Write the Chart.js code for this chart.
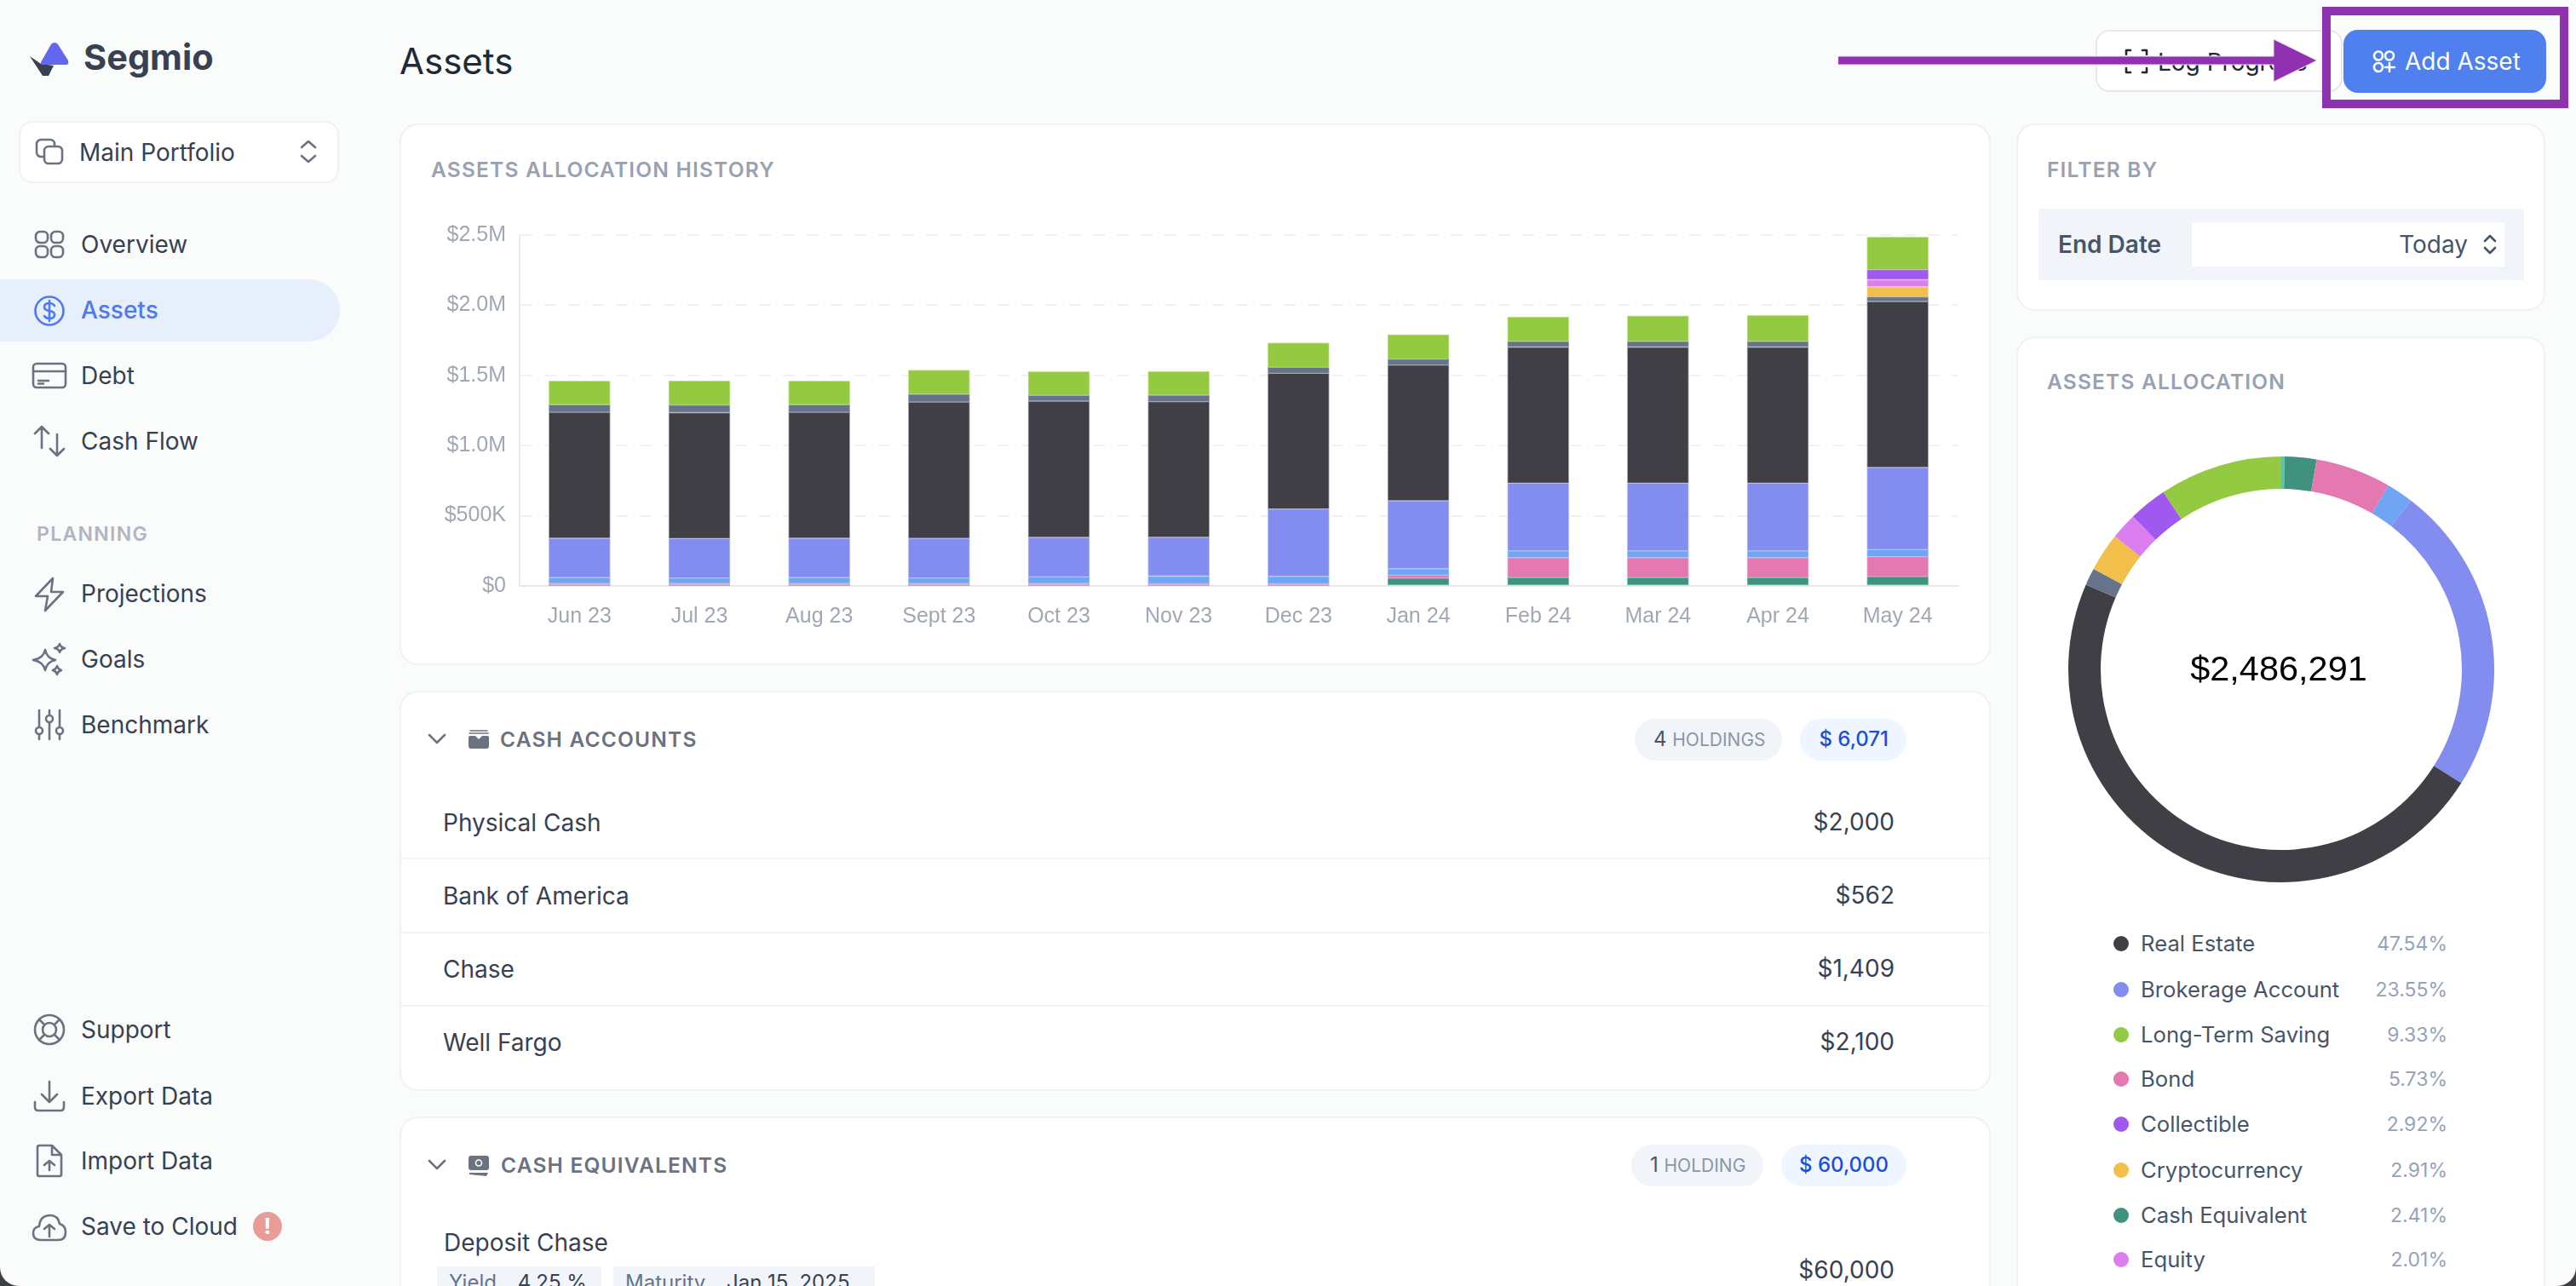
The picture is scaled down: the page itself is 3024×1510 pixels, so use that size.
<!DOCTYPE html>
<html>
<head>
<meta charset="utf-8">
<title>Segmio Assets</title>
<script src="https://cdn.jsdelivr.net/npm/chart.js@4"></script>
<style>
html, body { margin: 0; padding: 0; width: 3024px; height: 1510px; overflow: hidden; background: #3f3f46; }
#page { position: absolute; left: 0; top: 0; width: 3024px; height: 1510px; background: #fafbfb; overflow: hidden;
  border-bottom-left-radius: 22px; border-bottom-right-radius: 22px; font-family: Inter, sans-serif; color: #374151; }
.abs { position: absolute; }
.txt { position: absolute; white-space: nowrap; transform: translateY(-50%); line-height: 1; }
.txtr { position: absolute; white-space: nowrap; transform: translate(-100%, -50%); line-height: 1; }
.card { position: absolute; background: #fff; border: 2px solid #eef1f5; border-radius: 22px; box-sizing: border-box; }
.heading { font-size: 24.5px; font-weight: 600; color: #98a2b3; letter-spacing: 1.2px; }
.section { font-size: 24.5px; font-weight: 600; color: #6b7280; letter-spacing: 1.2px; }
.nav { font-size: 28px; color: #374151; }
.row { font-size: 28px; color: #374151; }
.sep { position: absolute; height: 2px; background: #f1f4f8; }
.pill { position: absolute; border-radius: 25px; box-sizing: border-box; }
svg { position: absolute; overflow: visible; fill: none; stroke: #6b7280; stroke-width: 2.6; stroke-linecap: round; stroke-linejoin: round; }
.legendName { font-size: 25.7px; color: #475569; }
.legendPct { font-size: 23px; color: #94a3b8; }
.dot { position: absolute; width: 18px; height: 18px; border-radius: 50%; transform: translate(-50%, -50%); }
</style>
</head>
<body>
<div id="page">

  <!-- sidebar -->
  <svg style="left:35px;top:49px" width="46" height="40" viewBox="0 0 46 40">
    <path d="M0 17 L15 40 L22 40 L28 28 L13 26 Z" style="fill:#374151;stroke:none"/>
    <path d="M13 24 L25 3 Q29 -1 33 3 L45 22 Q46 27 43 27 L16 27 Q12 27 13 24 Z" style="fill:#6366f1;stroke:none"/>
  </svg>
  <div class="txt" style="left:98px;top:68px;font-size:41.500px;font-weight:700;color:#374151">Segmio</div>

  <div class="abs" style="left:22px;top:142px;width:376px;height:73px;background:#fff;border:2px solid #eef1f5;border-radius:16px;box-sizing:border-box"></div>
  <svg style="left:42px;top:163px" width="32" height="30" viewBox="0 0 32 30">
    <rect x="1" y="1" width="21" height="20" rx="5"/><rect x="10" y="9" width="21" height="20" rx="5" style="fill:#fff"/>
  </svg>
  <div class="txt nav" style="left:93px;top:179px">Main Portfolio</div>
  <svg style="left:353px;top:164px" width="18" height="28" viewBox="0 0 18 28"><path d="M1 9 L9 2 L17 9 M1 19 L9 26 L17 19"/></svg>

  <div class="abs" style="left:0;top:328px;width:399px;height:73px;background:#e7eefc;border-radius:0 37px 37px 0"></div>

  <svg style="left:41px;top:271px" width="34" height="32" viewBox="0 0 34 32">
    <rect x="1" y="1" width="14" height="13" rx="5"/><rect x="19" y="1" width="14" height="13" rx="5"/>
    <rect x="1" y="18" width="14" height="13" rx="5"/><rect x="19" y="18" width="14" height="13" rx="5"/>
  </svg>
  <div class="txt nav" style="left:95px;top:287px">Overview</div>

  <svg style="left:40px;top:347px" width="36" height="36" viewBox="0 0 36 36">
    <circle cx="18" cy="18" r="16.5" style="stroke:#4f7bea"/>
    <path d="M24 12 Q22 9 18 9 Q12 9 12 13.500 Q12 17 18 18 Q24 19 24 22.500 Q24 27 18 27 Q14 27 12 24 M18 6 L18 30" style="stroke:#4f7bea"/>
  </svg>
  <div class="txt nav" style="left:95px;top:364px;color:#4f7bea;font-weight:500">Assets</div>

  <svg style="left:38px;top:426px" width="40" height="30" viewBox="0 0 40 30">
    <rect x="1" y="1" width="38" height="28" rx="4"/><path d="M1 10 L39 10 M7 21 L19 21 M7 24.500 L13 24.500"/>
  </svg>
  <div class="txt nav" style="left:95px;top:441px">Debt</div>

  <svg style="left:40px;top:500px" width="36" height="36" viewBox="0 0 36 36"><path d="M1 9 L9 1 L17 9 M9 1 L9 26 M19 27 L27 35 L35 27 M27 10 L27 35"/></svg>
  <div class="txt nav" style="left:95px;top:518px">Cash Flow</div>

  <div class="txt" style="left:43px;top:627px;font-size:23px;font-weight:600;color:#b0b5c0;letter-spacing:1.300px">PLANNING</div>

  <svg style="left:41px;top:678px" width="34" height="40" viewBox="0 0 34 40"><path d="M21 1 L1 22 L15 22 L12 39 L33 17 L19 17 Z"/></svg>
  <div class="txt nav" style="left:95px;top:697px">Projections</div>

  <svg style="left:38px;top:755px" width="40" height="38" viewBox="0 0 40 38">
    <path d="M15 8 Q17 18 27 20 Q17 22 15 32 Q13 22 1 20 Q13 18 15 8 Z"/>
    <path d="M32 1 Q33 5 38 6 Q33 7 32 11 Q31 7 26 6 Q31 5 32 1 Z M29 27 Q30 31 34 32 Q30 33 29 37 Q28 33 24 32 Q28 31 29 27 Z"/>
  </svg>
  <div class="txt nav" style="left:95px;top:774px">Goals</div>

  <svg style="left:42px;top:833px" width="32" height="36" viewBox="0 0 32 36">
    <path d="M4 1 L4 20 M4 30 L4 35 M16 1 L16 6 M16 16 L16 35 M28 1 L28 20 M28 30 L28 35"/>
    <circle cx="4" cy="25" r="4"/><circle cx="16" cy="11" r="4"/><circle cx="28" cy="25" r="4"/>
  </svg>
  <div class="txt nav" style="left:95px;top:851px">Benchmark</div>

  <svg style="left:40px;top:1191px" width="36" height="36" viewBox="0 0 36 36">
    <circle cx="18" cy="18" r="17"/><circle cx="18" cy="18" r="8"/>
    <path d="M6 6 L12 12 M30 6 L24 12 M6 30 L12 24 M30 30 L24 24"/>
  </svg>
  <div class="txt nav" style="left:95px;top:1209px">Support</div>

  <svg style="left:40px;top:1269px" width="36" height="36" viewBox="0 0 36 36"><path d="M18 1 L18 25 M9 16 L18 25 L27 16 M1 25 L1 31 Q1 35 5 35 L31 35 Q35 35 35 31 L35 25"/></svg>
  <div class="txt nav" style="left:95px;top:1287px">Export Data</div>

  <svg style="left:43px;top:1344px" width="30" height="38" viewBox="0 0 30 38">
    <path d="M3 1 L18 1 L29 12 L29 35 Q29 37 27 37 L3 37 Q1 37 1 35 L1 3 Q1 1 3 1 Z M18 1 L18 12 L29 12 M15 30 L15 19 M9 24 L15 19 L21 24"/>
  </svg>
  <div class="txt nav" style="left:95px;top:1363px">Import Data</div>

  <svg style="left:38px;top:1425px" width="40" height="32" viewBox="0 0 40 32">
    <path d="M10 31 Q1 31 1 23 Q1 16 8 15 Q9 2 21 2 Q30 2 32 12 Q39 14 39 22 Q39 31 30 31 Z M20 27 L20 13 M14 18 L20 13 L26 18"/>
  </svg>
  <div class="txt nav" style="left:95px;top:1440px">Save to Cloud</div>
  <div class="abs" style="left:297px;top:1423px;width:34px;height:34px;border-radius:50%;background:#e89c98;color:#fff;font-size:26px;font-weight:700;text-align:center;line-height:34px">!</div>

  <!-- header -->
  <div class="txt" style="left:469px;top:72px;font-size:42px;font-weight:400;color:#1f2937">Assets</div>
  <div class="abs" style="left:2460px;top:35px;width:290px;height:73px;background:#fff;border:2px solid #e5e7eb;border-radius:16px;box-sizing:border-box"></div>
  <svg style="left:2494px;top:58px" width="28" height="28" viewBox="0 0 28 28"><path d="M7 1 L2 1 L2 6 M21 1 L26 1 L26 6 M7 27 L2 27 L2 22 M21 27 L26 27 L26 22" style="stroke:#1f2937"/></svg>
  <div class="txt" style="left:2533px;top:73px;font-size:28px;color:#1f2937">Log Progress</div>
  <div class="abs" style="left:2751px;top:35px;width:238px;height:74px;background:#4f80ee;border-radius:17px"></div>
  <svg style="left:2785px;top:59px" width="28" height="26" viewBox="0 0 28 26">
    <circle cx="7" cy="6.500" r="5" style="stroke:#fff"/><circle cx="20" cy="6.500" r="5" style="stroke:#fff"/><circle cx="7" cy="20" r="5" style="stroke:#fff"/>
    <path d="M20 15 L20 25 M15 20 L26 20" style="stroke:#fff"/>
  </svg>
  <div class="txt" style="left:2823px;top:72px;font-size:28px;font-weight:400;color:#fff">Add Asset</div>

  <!-- allocation history card -->
  <div class="card" style="left:469px;top:145px;width:1868px;height:636px"></div>
  <div class="txt heading" style="left:506px;top:199px">ASSETS ALLOCATION HISTORY</div>
  <canvas id="historyChart" class="abs" style="left:500px;top:245px" width="1810" height="515"></canvas>

  <!-- cash accounts -->
  <div class="card" style="left:469px;top:811px;width:1868px;height:470px"></div>
  <svg style="left:503px;top:862px" width="20" height="12" viewBox="0 0 20 12"><path d="M1 1 L10 10 L19 1"/></svg>
  <svg style="left:550px;top:857px" width="24" height="22" viewBox="0 0 24 22">
    <path d="M2 1 L22 1 M1 4 L23 4" style="stroke-width:1.600"/>
    <path d="M2 7 L8 7 L12 11 L16 7 L22 7 Q24 7 24 9 L24 19 Q24 22 21 22 L3 22 Q0 22 0 19 L0 9 Q0 7 2 7 Z" style="fill:#6b7280;stroke:none"/>
  </svg>
  <div class="txt section" style="left:587px;top:868px">CASH ACCOUNTS</div>
  <div class="pill" style="left:1919px;top:844px;width:173px;height:49px;background:#f1f5f9"></div>
  <div class="txt" style="left:1941px;top:868px;font-size:24px;color:#475569">4 <span style="font-size:21px;color:#8b95a7">HOLDINGS</span></div>
  <div class="pill" style="left:2113px;top:844px;width:125px;height:49px;background:#eff6ff"></div>
  <div class="txtr" style="left:2217px;top:868px;font-size:24px;font-weight:500;color:#1d4ed8">$ 6,071</div>

  <div class="txt row" style="left:520px;top:966px">Physical Cash</div>
  <div class="txtr row" style="left:2224px;top:965px">$2,000</div>
  <div class="sep" style="left:471px;top:1007px;width:1864px"></div>
  <div class="txt row" style="left:520px;top:1052px">Bank of America</div>
  <div class="txtr row" style="left:2224px;top:1051px">$562</div>
  <div class="sep" style="left:471px;top:1094px;width:1864px"></div>
  <div class="txt row" style="left:520px;top:1138px">Chase</div>
  <div class="txtr row" style="left:2224px;top:1137px">$1,409</div>
  <div class="sep" style="left:471px;top:1180px;width:1864px"></div>
  <div class="txt row" style="left:520px;top:1224px">Well Fargo</div>
  <div class="txtr row" style="left:2224px;top:1223px">$2,100</div>

  <!-- cash equivalents -->
  <div class="card" style="left:469px;top:1311px;width:1868px;height:260px"></div>
  <svg style="left:503px;top:1362px" width="20" height="12" viewBox="0 0 20 12"><path d="M1 1 L10 10 L19 1"/></svg>
  <svg style="left:550px;top:1357px" width="24" height="24" viewBox="0 0 24 24">
    <rect x="0" y="0" width="24" height="17" rx="3" style="fill:#6b7280;stroke:none"/>
    <circle cx="12" cy="8.500" r="3.500" style="stroke:#fff;stroke-width:1.600"/>
    <path d="M1 20 L23 20 L21 24 L1 22 Z" style="fill:#6b7280;stroke:none"/>
  </svg>
  <div class="txt section" style="left:588px;top:1368px">CASH EQUIVALENTS</div>
  <div class="pill" style="left:1915px;top:1344px;width:155px;height:49px;background:#f1f5f9"></div>
  <div class="txt" style="left:1937px;top:1368px;font-size:24px;color:#475569">1 <span style="font-size:21px;color:#8b95a7">HOLDING</span></div>
  <div class="pill" style="left:2091px;top:1344px;width:147px;height:49px;background:#eff6ff"></div>
  <div class="txtr" style="left:2217px;top:1368px;font-size:24px;font-weight:500;color:#1d4ed8">$ 60,000</div>
  <div class="txt row" style="left:521px;top:1459px">Deposit Chase</div>
  <div class="txtr row" style="left:2224px;top:1491px">$60,000</div>
  <div class="abs" style="left:513px;top:1487px;width:193px;height:40px;background:#f1f5f9"></div>
  <div class="txt" style="left:527px;top:1506px;font-size:24px;color:#64748b">Yield <span style="margin-left:18px;color:#374151">4.25 %</span></div>
  <div class="abs" style="left:720px;top:1487px;width:307px;height:40px;background:#f1f5f9"></div>
  <div class="txt" style="left:734px;top:1506px;font-size:24px;color:#64748b">Maturity <span style="margin-left:18px;color:#374151">Jan 15, 2025</span></div>

  <!-- filter -->
  <div class="card" style="left:2367px;top:145px;width:621px;height:220px"></div>
  <div class="txt heading" style="left:2403px;top:199px">FILTER BY</div>
  <div class="abs" style="left:2393px;top:245px;width:570px;height:84px;background:#f1f5f9"></div>
  <div class="txt" style="left:2416px;top:287px;font-size:28px;font-weight:600;color:#475569">End Date</div>
  <div class="abs" style="left:2573px;top:261px;width:367px;height:52px;background:#fff"></div>
  <div class="txtr" style="left:2897px;top:287px;font-size:28px;color:#475569">Today</div>
  <svg style="left:2916px;top:275px" width="14" height="24" viewBox="0 0 14 24"><path d="M1 8 L7 2 L13 8 M1 16 L7 22 L13 16" style="stroke:#475569"/></svg>

  <!-- allocation donut -->
  <div class="card" style="left:2367px;top:395px;width:621px;height:1200px"></div>
  <div class="txt heading" style="left:2403px;top:448px">ASSETS ALLOCATION</div>
  <canvas id="allocationChart" class="abs" style="left:2424px;top:532px" width="508" height="508"></canvas>
  <div class="txt" style="left:2675px;top:785px;font-family:'Liberation Sans',sans-serif;font-size:41.500px;color:#000;transform:translate(-50%,-50%)">$2,486,291</div>
  <div id="allocationLegend"></div>

  <!-- annotation -->
  <svg style="left:2158px;top:46px;z-index:5" width="562" height="50" viewBox="0 0 562 50">
    <path d="M0 20 L511 20 L511 0 L562 25 L511 50 L511 30 L0 30 Z" style="fill:#8f31b1;stroke:#f0e6f5;stroke-width:1"/>
  </svg>
  <div class="abs" style="left:2726px;top:8px;width:289px;height:119px;border:10px solid #8f31b1;box-sizing:border-box;z-index:4"></div>
</div>

<script>
// x axis + y axis labels
const months = ['Jun 23', 'Jul 23', 'Aug 23', 'Sept 23', 'Oct 23', 'Nov 23', 'Dec 23', 'Jan 24', 'Feb 24', 'Mar 24', 'Apr 24', 'May 24'];
const yTickLabels = ['$0', '$500K', '$1.0M', '$1.5M', '$2.0M', '$2.5M'];

// stacked bars, bottom to top
const cashAccount = [3000, 3000, 3000, 3000, 3000, 3000, 3000, 6000, 6000, 6000, 6000, 6071];
const cashEquivalent = [3000, 3000, 3000, 3000, 3000, 3000, 3000, 50000, 52000, 52000, 52000, 60000];
const bond = [11000, 11000, 11000, 11000, 11000, 10000, 10000, 21000, 144000, 144000, 144000, 142500];
const otherBlue = [42000, 40000, 42000, 40000, 47000, 54000, 52000, 46000, 48000, 48000, 48000, 50500];
const brokerage = [281000, 281000, 281000, 282000, 282000, 277000, 480000, 484000, 482000, 482000, 482000, 585500];
const realEstate = [897000, 897000, 897000, 971000, 971000, 966000, 967000, 967000, 970000, 970000, 970000, 1182000];
const otherSlate = [54000, 54000, 54000, 57000, 40000, 45000, 42000, 42000, 40000, 40000, 40000, 32500];
const crypto = [0, 0, 0, 0, 0, 0, 0, 0, 0, 0, 0, 72300];
const equity = [0, 0, 0, 0, 0, 0, 0, 0, 0, 0, 0, 50000];
const collectible = [0, 0, 0, 0, 0, 0, 0, 0, 0, 0, 0, 72600];
const longTerm = [170000, 173000, 170000, 170000, 170000, 171000, 175000, 175000, 175000, 183000, 185000, 232000];

// donut, clockwise from the top
const donutValues = [6071, 60000, 142500, 50500, 585500, 1182000, 32500, 72300, 50000, 72600, 232000];
const donutColors = ['#5ec4a8', '#41917f', '#e478b0', '#70a5f3', '#838df0', '#403f45', '#667389', '#f3bf4b', '#db7ef0', '#a059ee', '#94ca42'];

// legend under the donut
const legendNames = ['Real Estate', 'Brokerage Account', 'Long-Term Saving', 'Bond', 'Collectible', 'Cryptocurrency', 'Cash Equivalent', 'Equity'];
const legendPercents = ['47.54%', '23.55%', '9.33%', '5.73%', '2.92%', '2.91%', '2.41%', '2.01%'];
const legendColors = ['#403f45', '#838df0', '#94ca42', '#e478b0', '#a059ee', '#f3bf4b', '#41917f', '#db7ef0'];
const legendRows = [1108, 1162, 1215, 1267, 1320, 1374, 1427, 1479];

function barSet(label, data, color, edge) {
    return {
        label: label,
        data: data,
        backgroundColor: color,
        borderColor: edge,
        borderWidth: 1,
        borderSkipped: false,
        barThickness: 72
    };
}

new Chart(document.getElementById('historyChart'), {
    type: 'bar',
    data: {
        labels: months,
        datasets: [
            barSet('Cash Account', cashAccount, '#5ec4a8', '#8fdcc6'),
            barSet('Cash Equivalent', cashEquivalent, '#41917f', '#7dc4b0'),
            barSet('Bond', bond, '#e478b0', '#f0a8cf'),
            barSet('Other', otherBlue, '#70a5f3', '#a4c8f9'),
            barSet('Brokerage Account', brokerage, '#838df0', '#b9bff8'),
            barSet('Real Estate', realEstate, '#403f45', '#a3a3a9'),
            barSet('Other', otherSlate, '#667389', '#a2adbd'),
            barSet('Cryptocurrency', crypto, '#f3bf4b', '#f8dc92'),
            barSet('Equity', equity, '#db7ef0', '#ecb4f8'),
            barSet('Collectible', collectible, '#a059ee', '#c79ef6'),
            barSet('Long-Term Saving', longTerm, '#94ca42', '#c4e58c')
        ]
    },
    options: {
        responsive: false,
        animation: false,
        devicePixelRatio: 1,
        // top gap comes from the y scale itself (half a label + tick padding)
        layout: { padding: { top: 0, right: 12, left: 0, bottom: 0 } },
        plugins: { legend: { display: false }, tooltip: { enabled: false } },
        scales: {
            x: {
                stacked: true,
                grid: { display: false },
                border: { color: '#e2e8f0', width: 2 },
                ticks: { color: '#a0a7b5', padding: 13, maxRotation: 0, autoSkip: false, font: { family: 'Liberation Sans', size: 25 } },
                afterFit: function (scale) { scale.height = 72; }
            },
            y: {
                stacked: true,
                min: 0,
                max: 2500000,
                grid: { color: '#eef1f6', lineWidth: 2, drawTicks: false },
                border: { color: '#e8ecf1', width: 2, dash: [14, 14] },
                ticks: {
                    stepSize: 500000,
                    color: '#a0a7b5',
                    padding: 16,
                    font: { family: 'Liberation Sans', size: 25 },
                    callback: function (value, index) { return yTickLabels[index]; }
                },
                afterFit: function (scale) { scale.width = 110; }
            }
        }
    }
});

new Chart(document.getElementById('allocationChart'), {
    type: 'doughnut',
    data: {
        labels: donutValues.map(function (v, i) { return 'slice ' + i; }),
        datasets: [{ data: donutValues, backgroundColor: donutColors, borderWidth: 0 }]
    },
    options: {
        responsive: false,
        animation: false,
        devicePixelRatio: 1,
        cutout: '84.8%',
        layout: { padding: 4 },
        plugins: { legend: { display: false }, tooltip: { enabled: false } }
    }
});

// legend rows are plain html, same as the rest of the page
const legendBox = document.getElementById('allocationLegend');
for (let i = 0; i < legendNames.length; i++) {
    const y = legendRows[i];
    legendBox.innerHTML +=
        '<div class="dot" style="left:2490px;top:' + y + 'px;background:' + legendColors[i] + '"></div>' +
        '<div class="txt legendName" style="left:2513px;top:' + y + 'px">' + legendNames[i] + '</div>' +
        '<div class="txtr legendPct" style="left:2873px;top:' + y + 'px">' + legendPercents[i] + '</div>';
}
</script>
</body>
</html>
